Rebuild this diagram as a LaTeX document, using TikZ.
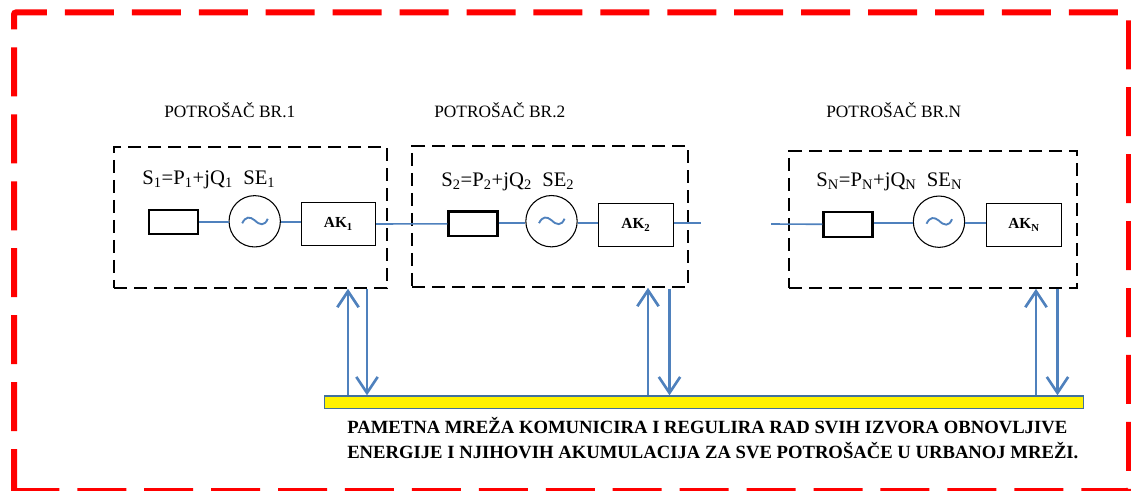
\documentclass[tikz,border=0pt]{standalone}
\usepackage{fontspec}
\setmainfont{Liberation Serif}
\usetikzlibrary{arrows.meta}
\definecolor{wireblue}{HTML}{4F81BD}
\definecolor{barblue}{HTML}{41719C}
\begin{document}
\begin{tikzpicture}[x=0.75pt,y=-0.75pt,
    wire/.style={draw=wireblue,line width=1.2pt},
    arr/.style={draw=wireblue,line width=2pt,-{Straight Barb[length=12pt,width=16pt,line width=2pt]}},
    dbox/.style={draw,line width=1.25pt,dash pattern=on 10pt off 5pt,inner sep=0pt},
    loadbox/.style={draw,line width=1.6pt,inner sep=0pt,minimum width=36.75pt,minimum height=18.5pt},
    akbox/.style={draw,line width=0.7pt,inner sep=0pt,minimum width=55.8pt,minimum height=32.8pt,
      font=\fontsize{11.5}{13}\selectfont\bfseries},
    src/.style={circle,draw,line width=0.8pt,inner sep=0pt,minimum size=38.5pt},
    every node/.style={font=\fontsize{13}{15}\selectfont}]
  \useasboundingbox (0,0) rectangle (1131,491);
  % outer frame
  \draw[red,line width=4.5pt,dash pattern=on 36.75pt off 13.45pt,dash phase=3pt,rounded corners=1.5pt]
    (14,494)--(14,12.5)--(1129,12.5)--(1129,491)--(11,491);
  % consumers
  \foreach \i/\cx/\cy/\w/\h/\lx/\ly/\sx/\sy/\wy/\ax/\ay/\tx/\ty/\hx in {
      1/250.5/217.5/273/141/173.8/222/254.7/221.3/222.3/338.5/224/142/185/164,
      2/550/216.5/276/141/473/223.8/551.5/221.2/223/636/225/441/187/434,
      N/933/219.5/288/137/848/224.3/939/221.7/223/1024/225/816/187/826}{
    \node[dbox,minimum width=\w*0.75pt,minimum height=\h*0.75pt] (box\i) at (\cx,\cy) {};
    \node[loadbox] (load\i) at (\lx,\ly) {};
    \node[src] (src\i) at (\sx,\sy) {};
    \node[akbox] (ak\i) at (\ax,\ay) {AK\textsubscript{\i}};
    \node[anchor=base west,inner sep=0pt,font=\fontsize{15.5}{17}\selectfont] (eq\i) at (\tx,\ty)
      {S\textsubscript{\i}=P\textsubscript{\i}+jQ\textsubscript{\i}\ \ SE\textsubscript{\i}};
    \node[anchor=base west,inner sep=0pt] (title\i) at (\hx,118) {POTROŠAČ BR.\i};
    \coordinate (w\i) at (\sx,\wy);
    \draw[wire] (load\i.east|-w\i)--(src\i.west|-w\i);
    \draw[wire] (src\i.east|-w\i)--(ak\i.west|-w\i);
    \begin{scope}[shift={(src\i)}]
      \draw[wire,line width=1.4pt] (-12.5,2) .. controls (-9,-5) and (-5,-5) .. (0,-1)
        .. controls (5,4) and (10,5) .. (13,-2.5);
    \end{scope}
  }
  % links between consumers
  \coordinate (free2) at (701,223.3);
  \coordinate (freeN) at (771,224);
  \draw[wire] (ak1.east)--(load2.west);
  \draw[wire] (ak2.east|-free2)--(free2);
  \draw[wire] (freeN)--(loadN.west);
  % smart grid bar
  \node[draw=barblue,fill=yellow,line width=1.1pt,inner sep=0pt,minimum width=569pt,minimum height=9.2pt] (bar) at (704,402.2) {};
  \node[anchor=north west,inner sep=0pt,align=left,font=\fontsize{14}{18.75}\selectfont\bfseries] (note) at (347,417)
    {PAMETNA MREŽA KOMUNICIRA I REGULIRA RAD SVIH IZVORA OBNOVLJIVE\\
     ENERGIJE I NJIHOVIH AKUMULACIJA ZA SVE POTROŠAČE U URBANOJ MREŽI.};
  % signals up and down
  \foreach \i/\xu/\xd in {1/348/367, 2/648/669.5, N/1036/1057.5}{
    \coordinate (up\i) at (\xu,395);
    \coordinate (dn\i) at (\xd,289);
    \draw[arr] (up\i)--(up\i|-box\i.south);
    \draw[arr] (dn\i)--(dn\i|-bar.north);
  }
\end{tikzpicture}
\end{document}
